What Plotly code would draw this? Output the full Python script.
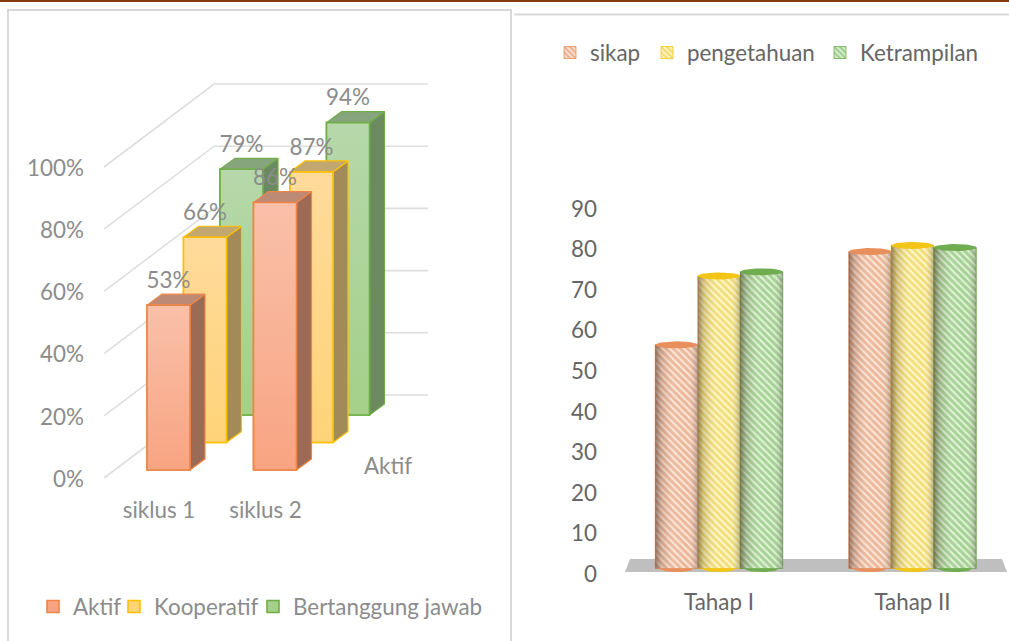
import math
import plotly.graph_objects as go

W, H = 1009, 641

# ---------- data ----------
categories_left = ["siklus 1", "siklus 2"]
aktif = [53, 86]
kooperatif = [66, 87]
bertanggung_jawab = [79, 94]
depth_label = "Aktif"
pct_ticks = [0, 20, 40, 60, 80, 100]

categories_right = ["Tahap I", "Tahap II"]
sikap = [56, 79]
pengetahuan = [73, 80.5]
ketrampilan = [74, 80]
value_ticks = [0, 10, 20, 30, 40, 50, 60, 70, 80, 90]

# ---------- styling ----------
FONT = "Lato"
GREY_L = "#8C8C8C"
GREY_R = "#666666"
FS = 22.4

# left oblique projection (pixels per unit)
LX0, LXU, LY0, LYU = 159.0, 106.5, 478.0, 3.11
L_DOM = (88, 440, 60, 489)  # px left, right, top, bottom
WALL_FRONT_X, WALL_BACK_X, WALL_END_X = 104, 214, 428
WALL_DY = 83
BAR_W = 43
FACE_DX, FACE_DY = 15, 11
rows = [
    dict(name="Bertanggung jawab", vals=bertanggung_jawab, dx=82.5, dy=63,
         top="#B6D8AA", bot="#A4D089", line="#70AD47", side="#6B8A5F", cap="#87A57C", leg=(276, 607)),
    dict(name="Kooperatif", vals=kooperatif, dx=46, dy=35.5,
         top="#FFDB9B", bot="#FFD378", line="#FFC000", side="#A28A59", cap="#C3A771", leg=(137, 607)),
    dict(name="Aktif", vals=aktif, dx=9.5, dy=8,
         top="#F9C0A9", bot="#F8A482", line="#ED8548", side="#9C6B55", cap="#BC8A75", leg=(56, 607)),
]

# right chart
RX0, RXU, RY0, RYU = 719.0, 193.5, 572.0, 4.056
R_DOM = (602, 1009, 150, 585)
CYL_W = 42.5
CYL_RY = 3.5
BASE_PX = 3.5
cyls = [
    dict(name="sikap", vals=sikap, off=-42.5, fg="#D9804F", bg="#FCE6D8", cap="#E98F5C", leg=(573, 53)),
    dict(name="pengetahuan", vals=pengetahuan, off=0, fg="#E6BE20", bg="#FFF9C8", cap="#F2C516", leg=(670, 53)),
    dict(name="Ketrampilan", vals=ketrampilan, off=42.5, fg="#64A850", bg="#DFF4D2", cap="#70AD50", leg=(843, 53)),
]


def xfrac(px):
    return px / W


def yfrac(py):
    return 1 - py / H


def axis_range_x(dom, x0, u):
    return [(dom[0] - x0) / u, (dom[1] - x0) / u]


def axis_range_y(dom, y0, u):
    return [(y0 - dom[3]) / u, (y0 - dom[2]) / u]


fig = go.Figure()


def hidden_axes(n, dom, rx, ry):
    over_x = "x" if n <= 4 else "x5"
    over_y = "y" if n <= 4 else "y5"
    fig.layout[f"xaxis{n}"] = dict(domain=[xfrac(dom[0]), xfrac(dom[1])], range=rx, overlaying=over_x,
                                   visible=False, anchor=f"y{n}")
    fig.layout[f"yaxis{n}"] = dict(domain=[yfrac(dom[3]), yfrac(dom[2])], range=ry, overlaying=over_y,
                                   visible=False, anchor=f"x{n}")


# ---------- left: grid ----------
lrx = axis_range_x(L_DOM, LX0, LXU)
lry = axis_range_y(L_DOM, LY0, LYU)
for v in pct_ticks:
    xs = [(WALL_FRONT_X - LX0) / LXU, (WALL_BACK_X - LX0) / LXU, (WALL_END_X - LX0) / LXU]
    ys = [v, v + WALL_DY / LYU, v + WALL_DY / LYU]
    fig.add_trace(go.Scatter(x=xs, y=ys, mode="lines", line=dict(color="#DEDEDE", width=1.6),
                             showlegend=False, hoverinfo="skip", xaxis="x", yaxis="y"))

# ---------- left: oblique bars, back row first ----------
for n, r in enumerate(rows, start=2):
    hidden_axes(n, L_DOM, lrx, lry)
    ax = dict(xaxis=f"x{n}", yaxis=f"y{n}")
    shift = r["dx"] / LXU
    base = r["dy"] / LYU
    half = BAR_W / 2 / LXU
    fdx = FACE_DX / LXU
    fdy = FACE_DY / LYU
    xc = [i + shift for i in range(len(r["vals"]))]
    legend_id = {"Aktif": "legend", "Kooperatif": "legend2", "Bertanggung jawab": "legend3"}[r["name"]]
    fig.add_trace(go.Bar(x=xc, y=r["vals"], base=[base] * len(xc), width=BAR_W / LXU, name=r["name"],
                         marker=dict(color=r["bot"], line=dict(color=r["line"], width=1.6)),
                         legend=legend_id, hoverinfo="skip", **ax))
    for c, v in zip(xc, r["vals"]):
        top = base + v
        # side face
        fig.add_trace(go.Scatter(
            x=[c + half, c + half + fdx, c + half + fdx, c + half, c + half],
            y=[base, base + fdy, top + fdy, top, base],
            mode="lines", fill="toself", fillcolor=r["side"], line=dict(color=r["line"], width=1.2),
            showlegend=False, hoverinfo="skip", **ax))
        # top face
        fig.add_trace(go.Scatter(
            x=[c - half, c + half, c + half + fdx, c - half + fdx, c - half],
            y=[top, top, top + fdy, top + fdy, top],
            mode="lines", fill="toself", fillcolor=r["cap"], line=dict(color=r["line"], width=1.2),
            showlegend=False, hoverinfo="skip", **ax))
        # front gradient
        fig.add_trace(go.Scatter(
            x=[c - half, c + half, c + half, c - half, c - half],
            y=[base, base, top, top, base],
            mode="lines", fill="toself",
            fillgradient=dict(type="vertical", start=base, stop=top,
                              colorscale=[[0, r["bot"]], [1, r["top"]]]),
            line=dict(color=r["line"], width=1.6),
            showlegend=False, hoverinfo="skip", **ax))

# data labels above everything in the left chart
for r in rows:
    shift = r["dx"] / LXU
    base = r["dy"] / LYU
    fig.add_trace(go.Scatter(
        x=[i + shift for i in range(len(r["vals"]))],
        y=[base + v + 23 / LYU for v in r["vals"]],
        text=[f"{v}%" for v in r["vals"]], mode="text",
        textfont=dict(family=FONT, size=FS, color=GREY_L), textposition="middle center",
        showlegend=False, hoverinfo="skip", xaxis="x4", yaxis="y4"))

# ---------- right: floor ----------
rrx = axis_range_x(R_DOM, RX0, RXU)
rry = axis_range_y(R_DOM, RY0, RYU)
fl = [(625 - RX0) / RXU, (630 - RX0) / RXU, (1002 - RX0) / RXU, (1007 - RX0) / RXU]
fig.add_trace(go.Scatter(x=[fl[0], fl[1], fl[2], fl[3], fl[0]], y=[0, 13 / RYU, 13 / RYU, 0, 0],
                         mode="lines", fill="toself", fillcolor="#BFBFBF", line=dict(width=0),
                         showlegend=False, hoverinfo="skip", xaxis="x5", yaxis="y5"))

# ---------- right: cylinders ----------
hidden_axes(6, R_DOM, rrx, rry)
rx_u = CYL_W / 2 / RXU
ry_u = CYL_RY / RYU
base_val = BASE_PX / RYU
angles = [2 * math.pi * k / 48 for k in range(49)]
lower = [math.pi + math.pi * k / 24 for k in range(25)]
shade = [[0, "rgba(70,45,35,0.55)"], [0.14, "rgba(90,70,60,0.22)"], [0.42, "rgba(255,255,255,0.10)"],
         [0.78, "rgba(255,255,255,0.05)"], [1, "rgba(70,70,60,0.35)"]]
leg_ids = ["legend4", "legend5", "legend6"]
for c, lid in zip(cyls, leg_ids):
    off = c["off"] / RXU
    xc = [i + off for i in range(len(c["vals"]))]
    fig.add_trace(go.Bar(
        x=xc, y=[v - base_val for v in c["vals"]], base=[base_val] * len(xc), width=CYL_W / RXU, name=c["name"],
        marker=dict(color=c["bg"], line=dict(color=c["cap"], width=0.8),
                    pattern=dict(shape="\\", fgcolor=c["fg"], bgcolor=c["bg"], size=5, solidity=0.6)),
        legend=lid, hoverinfo="skip", xaxis="x6", yaxis="y6"))
for c in cyls:
    off = c["off"] / RXU
    for i, v in enumerate(c["vals"]):
        x = i + off
        fig.add_trace(go.Scatter(
            x=[x - rx_u, x + rx_u, x + rx_u, x - rx_u, x - rx_u], y=[base_val, base_val, v, v, base_val],
            mode="lines", fill="toself", line=dict(width=0),
            fillgradient=dict(type="horizontal", start=x - rx_u, stop=x + rx_u, colorscale=shade),
            showlegend=False, hoverinfo="skip", xaxis="x6", yaxis="y6"))
        fig.add_trace(go.Scatter(
            x=[x + rx_u * 0.8 * math.cos(a) for a in lower],
            y=[base_val + ry_u * math.sin(a) for a in lower],
            mode="lines", fill="toself", fillcolor=c["cap"], line=dict(width=0),
            showlegend=False, hoverinfo="skip", xaxis="x6", yaxis="y6"))
        fig.add_trace(go.Scatter(
            x=[x + rx_u * math.cos(a) for a in angles],
            y=[v + ry_u * math.sin(a) for a in angles],
            mode="lines", fill="toself", fillcolor=c["cap"], line=dict(width=0),
            showlegend=False, hoverinfo="skip", xaxis="x6", yaxis="y6"))


# ---------- legends, one box per item so every entry can be placed ----------
def legend_box(cx, cy, color):
    return dict(x=xfrac(cx - 23), y=yfrac(cy), xanchor="left", yanchor="middle", orientation="h",
                bgcolor="rgba(0,0,0,0)", borderwidth=0, font=dict(family=FONT, size=FS, color=color),
                itemclick=False, itemdoubleclick=False)


fig.update_layout(
    width=W, height=H, margin=dict(l=0, r=0, t=0, b=0, autoexpand=False), paper_bgcolor="white", plot_bgcolor="rgba(0,0,0,0)",
    barmode="overlay", font=dict(family=FONT, size=FS, color=GREY_L),
    legend=legend_box(*rows[2]["leg"], GREY_L),
    legend2=legend_box(*rows[1]["leg"], GREY_L),
    legend3=legend_box(*rows[0]["leg"], GREY_L),
    legend4=legend_box(*cyls[0]["leg"], GREY_R),
    legend5=legend_box(*cyls[1]["leg"], GREY_R),
    legend6=legend_box(*cyls[2]["leg"], GREY_R),
    xaxis=dict(domain=[xfrac(L_DOM[0]), xfrac(L_DOM[1])], range=lrx, showgrid=False, zeroline=False, showline=False,
               tickmode="array", tickvals=list(range(len(categories_left))), ticktext=categories_left,
               ticks="outside", ticklen=1, tickcolor="rgba(0,0,0,0)", tickfont=dict(family=FONT, size=FS, color=GREY_L)),
    yaxis=dict(domain=[yfrac(L_DOM[3]), yfrac(L_DOM[2])], range=lry, showgrid=False, zeroline=False, showline=False,
               tickmode="array", tickvals=pct_ticks, ticktext=[f"{v}%" for v in pct_ticks],
               ticklabelstandoff=3, ticklabelshift=1,
               tickfont=dict(family=FONT, size=FS, color=GREY_L)),
    xaxis5=dict(domain=[xfrac(R_DOM[0]), xfrac(R_DOM[1])], range=rrx, showgrid=False, zeroline=False, showline=False,
                anchor="y5", tickmode="array", tickvals=list(range(len(categories_right))), ticktext=categories_right,
                ticks="", ticklabelstandoff=2, tickfont=dict(family=FONT, size=FS, color=GREY_R)),
    yaxis5=dict(domain=[yfrac(R_DOM[3]), yfrac(R_DOM[2])], range=rry, showgrid=False, zeroline=False, showline=False,
                anchor="x5", tickmode="array", tickvals=value_ticks, ticktext=[str(v) for v in value_ticks],
                ticklabelstandoff=4, ticklabelshift=2,
                tickfont=dict(family=FONT, size=FS, color=GREY_R)),
    annotations=[dict(text=depth_label, x=xfrac(388), y=yfrac(465), xref="paper", yref="paper", showarrow=False,
                      xanchor="center", yanchor="middle",
                      font=dict(family=FONT, size=FS, color=GREY_L))],
    shapes=[
        dict(type="rect", xref="paper", yref="paper", x0=0, x1=1, y0=1, y1=yfrac(2), fillcolor="#843C0C", line=dict(width=0)),
        dict(type="rect", xref="paper", yref="paper", x0=xfrac(8), x1=xfrac(511), y0=-0.05, y1=yfrac(10),
             fillcolor="rgba(0,0,0,0)", line=dict(color="#D9D9D9", width=2)),
        dict(type="line", xref="paper", yref="paper", x0=xfrac(514), x1=1, y0=yfrac(14.5), y1=yfrac(14.5),
             line=dict(color="#D9D9D9", width=2)),
    ],
)

fig.write_html("out.html", config={"displayModeBar": False}, post_script="document.body.style.margin='0';")
